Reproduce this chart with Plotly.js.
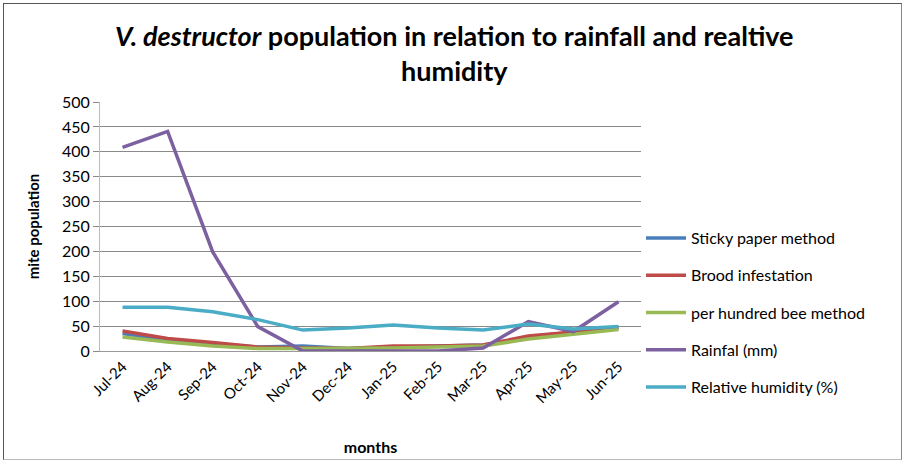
<!DOCTYPE html>
<html>
<head>
<meta charset="utf-8">
<script src="https://cdn.plot.ly/plotly-3.0.1.min.js"></script>
<style>
html,body{margin:0;padding:0;background:#fff;}
#wrap{position:relative;width:905px;height:464px;}
#chart{width:905px;height:464px;}
#frame{position:absolute;left:3px;top:3px;width:899px;height:457px;border:1px solid #555;border-bottom-color:#bbb;border-right-color:#888;pointer-events:none;box-sizing:border-box;}
</style>
</head>
<body>
<div id="wrap"><div id="chart"></div><div id="frame"></div></div>
<script>
const months = ["Jul-24","Aug-24","Sep-24","Oct-24","Nov-24","Dec-24","Jan-25","Feb-25","Mar-25","Apr-25","May-25","Jun-25"];
const stickyPaper = [35, 22, 15, 8, 10, 5, 8, 10, 12, 28, 38, 47];
const broodInfestation = [40, 25, 17, 8, 6, 5, 10, 10, 12, 30, 38, 47];
const perHundredBee = [28, 18, 10, 5, 5, 5, 6, 8, 10, 24, 34, 43];
const rainfall = [409, 441, 199, 49, 0, 0, 0, 0, 6, 59, 39, 99];
const humidity = [88, 88, 79, 63, 42, 46, 52, 46, 42, 54, 44, 49];

const names = ["Sticky paper method","Brood infestation","per hundred bee method","Rainfal (mm)","Relative humidity (%)"];
const series = [stickyPaper, broodInfestation, perHundredBee, rainfall, humidity];
const colors = ["#4A7EBB","#BE4B48","#98B954","#7D60A0","#4BACC6"];

const data = series.map((s,i)=>({
  type:"scatter", mode:"lines", x:months, y:s, name:names[i], legendgroup:"g"+i,
  line:{color:colors[i], width:3.5}
}));

const layout = {
  width:905, height:464,
  margin:{l:100, r:241, t:102, b:113},
  paper_bgcolor:"#fff", plot_bgcolor:"#fff",
  font:{family:"Lato, 'Open Sans', sans-serif", color:"#000"},
  title:{text:"<b><i>V. destructor</i> population in relation to rainfall and realtive<br>humidity</b>",
    font:{size:27, color:"#000"}, x:0.502, xref:"container", xanchor:"center", y:1-46/464, yanchor:"middle", yref:"container"},
  xaxis:{type:"category", tickangle:-45, tickfont:{size:15}, showgrid:false,
    showline:true, linecolor:"#999", linewidth:1, ticks:"", range:[-0.5,11.5],
    title:{text:"<b>months</b>", font:{size:16}, standoff:36}},
  yaxis:{range:[0,500], dtick:50, tickfont:{size:16}, showgrid:true, gridcolor:"#8a8a8a", gridwidth:1,
    showline:true, linecolor:"#bbb", linewidth:1, ticks:"outside", ticklen:6, tickcolor:"#8a8a8a",
    zeroline:false,
    title:{text:"<b>mite population</b>", font:{size:15}, standoff:18}},
  legend:{xref:"container", yref:"container", x:641/905, y:1-221/464, xanchor:"left", yanchor:"top",
    font:{size:16}, bgcolor:"rgba(0,0,0,0)", tracegroupgap:13.5, itemwidth:40},
  showlegend:true
};
Plotly.newPlot("chart", data, layout, {displayModeBar:false, staticPlot:true});
</script>
</body>
</html>
